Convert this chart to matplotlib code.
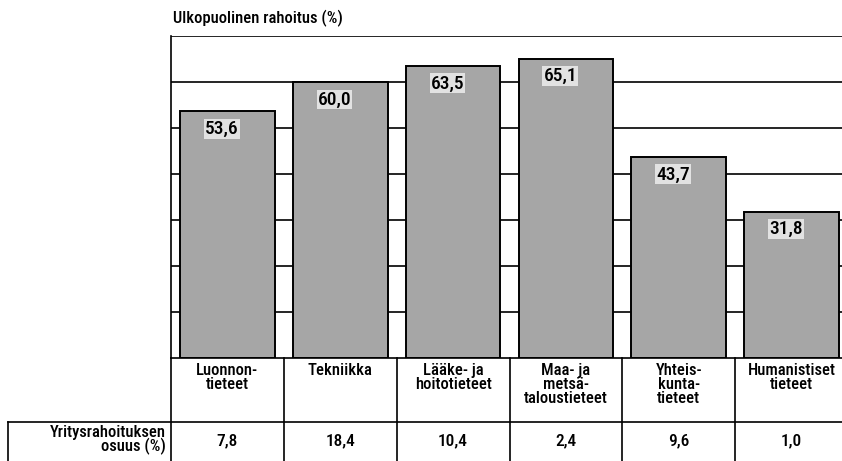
import matplotlib
matplotlib.use("Agg")
import matplotlib.pyplot as plt
import matplotlib.transforms as mtransforms

categories = ["Luonnon-\ntieteet", "Tekniikka", "Lääke- ja\nhoitotieteet",
              "Maa- ja\nmetsä-\ntaloustieteet", "Yhteis-\nkunta-\ntieteet", "Humanistiset\ntieteet"]
external_funding = [53.6, 60.0, 63.5, 65.1, 43.7, 31.8]
external_labels = ["53,6", "60,0", "63,5", "65,1", "43,7", "31,8"]
company_share_labels = ["7,8", "18,4", "10,4", "2,4", "9,6", "1,0"]
title_text = "Ulkopuolinen rahoitus (%)"
row_label = "Yritysrahoituksen\nosuus (%)"
grid_values = [10, 20, 30, 40, 50, 60, 70]

FONT = ["Roboto Condensed", "DejaVu Sans"]
plt.rcParams['font.family'] = FONT
plt.rcParams['font.weight'] = 'medium'

W, H = 842, 461
fig = plt.figure(figsize=(W / 100, H / 100), dpi=100)
ax_left, ax_right, ax_top, ax_bottom = 171, 848, 36, 358
ax = fig.add_axes([ax_left / W, 1 - ax_bottom / H, (ax_right - ax_left) / W, (ax_bottom - ax_top) / H])

x = list(range(len(categories)))
ax.set_xlim(-0.5, len(categories) - 0.5)
ax.set_ylim(0, 70)
for g in grid_values:
    ax.axhline(g, color="black", lw=1.2, zorder=1)
ax.bar(x, external_funding, width=0.84, color="#a6a6a6", edgecolor="black", linewidth=1.4, zorder=2)
for xi, v, lab in zip(x, external_funding, external_labels):
    ax.text(xi - 0.05, v - 3.8, lab, ha="center", va="center", fontsize=14, zorder=3,
            bbox=dict(boxstyle="square,pad=0.05", fc="#e2e2e2", ec="none"))

for s in ["top", "right", "bottom"]:
    ax.spines[s].set_visible(False)
ax.spines["left"].set_linewidth(1.2)
ax.set_xticks([])
ax.set_yticks([])

# table below
blend = mtransforms.blended_transform_factory(ax.transData, fig.transFigure)
def fy(py):
    return 1 - py / H

line_kw = dict(color="black", lw=1.2, clip_on=False)
fig.add_artist(plt.Line2D([ax_left / W, 1.0], [fy(ax_bottom), fy(ax_bottom)], transform=fig.transFigure, **line_kw))
fig.add_artist(plt.Line2D([8 / W, 1.0], [fy(421.5), fy(421.5)], transform=fig.transFigure, **line_kw))
fig.add_artist(plt.Line2D([ax_left / W, ax_left / W], [fy(ax_bottom), 0], transform=fig.transFigure, **line_kw))
fig.add_artist(plt.Line2D([8 / W, 8 / W], [fy(421.5), 0], transform=fig.transFigure, **line_kw))
for i in range(len(categories) - 1):
    fig.add_artist(plt.Line2D([i + 0.5, i + 0.5], [fy(ax_bottom), 0], transform=blend, **line_kw))

for xi, cat, val in zip(x, categories, company_share_labels):
    fig.text(xi, fy(363), cat, transform=blend, ha="center", va="top", fontsize=12, linespacing=0.9)
    fig.text(xi, fy(441), val, transform=blend, ha="center", va="center", fontsize=12.5)

fig.text(166 / W, fy(440), row_label, ha="right", va="center", fontsize=12, linespacing=0.78,
         multialignment="right")
fig.text(173 / W, fy(18), title_text, ha="left", va="center", fontsize=12)

fig.savefig("out.png", dpi=100)
